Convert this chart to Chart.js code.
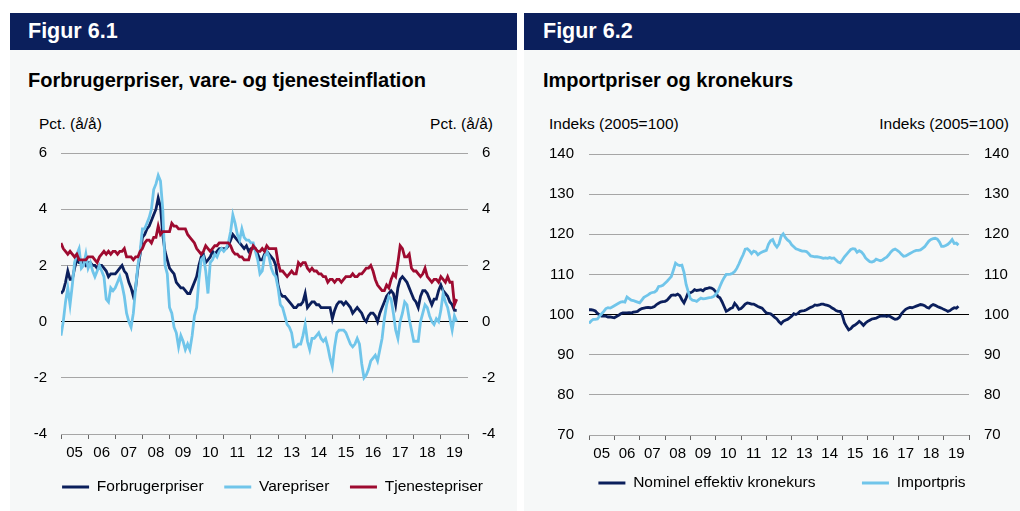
<!DOCTYPE html>
<html><head><meta charset="utf-8">
<script src="https://cdn.jsdelivr.net/npm/chart.js@4.4.1/dist/chart.umd.min.js"></script>
<style>
body{margin:0;width:1020px;height:511px;background:#fff;position:relative;overflow:hidden;font-family:'Liberation Sans',Arial,Helvetica,sans-serif;color:#000}
.panel{position:absolute;top:13px;height:498px;background:#f6f8f8}
.hdr{position:absolute;left:0;top:0;right:0;height:37px;background:#0b1f5c;color:#fff;font-weight:bold;font-size:21.5px;line-height:37px}
.ttl{position:absolute;top:57px;font-weight:bold;font-size:20px;line-height:20px;white-space:nowrap}
.unit{position:absolute;top:102px;font-size:15.5px;line-height:18px;white-space:nowrap}
canvas{position:absolute;left:0;top:117px}
</style></head>
<body>
<div class="panel" style="left:10px;width:507px">
 <div class="hdr" style="padding-left:18px">Figur 6.1</div>
 <div class="ttl" style="left:18px">Forbrugerpriser, vare- og tjenesteinflation</div>
 <div class="unit" style="left:29px">Pct. (å/å)</div>
 <div class="unit" style="right:24px">Pct. (å/å)</div>
 <canvas id="c1" width="507" height="375"></canvas>
</div>
<div class="panel" style="left:524px;width:496px">
 <div class="hdr" style="padding-left:19px">Figur 6.2</div>
 <div class="ttl" style="left:19px">Importpriser og kronekurs</div>
 <div class="unit" style="left:25px">Indeks (2005=100)</div>
 <div class="unit" style="right:11px">Indeks (2005=100)</div>
 <canvas id="c2" width="496" height="375"></canvas>
</div>
<script>
// Year labels (2005-2019), monthly data Jan 2005 - Aug 2019
const yearLabels = ['05','06','07','08','09','10','11','12','13','14','15','16','17','18','19'];

const forbrugerpriser = [
 1.0,1.1,1.4,1.8,1.5,1.5,1.9,2.2,2.1,2.1,2.1,2.0,
 2.1,2.1,2.0,2.0,1.9,2.0,2.0,1.9,1.8,1.6,1.7,1.7,
 1.7,1.8,1.9,2.0,1.8,1.7,1.4,1.2,0.9,1.2,1.9,2.4,
 3.0,3.1,3.3,3.4,3.6,3.8,4.0,4.4,4.1,3.1,2.5,2.2,
 1.9,1.8,1.7,1.4,1.3,1.2,1.2,1.1,1.0,1.0,1.2,1.4,
 1.6,2.0,2.3,2.4,2.1,2.2,2.3,2.5,2.4,2.5,2.6,2.6,
 2.6,2.6,2.7,2.9,3.1,3.0,2.9,2.8,2.7,2.6,2.7,2.5,
 2.6,2.6,2.6,2.4,2.2,2.2,2.4,2.5,2.4,2.3,2.2,2.0,
 1.3,1.0,0.9,0.9,0.8,0.7,0.6,0.5,0.5,0.6,0.6,0.7,
 1.0,0.5,0.6,0.7,0.7,0.6,0.6,0.5,0.5,0.5,0.5,0.5,
 0.1,0.4,0.6,0.7,0.7,0.6,0.7,0.6,0.5,0.3,0.4,0.5,
 0.4,0.3,0.1,0.0,0.2,0.3,0.3,0.2,0.0,0.3,0.5,0.7,
 0.9,1.0,1.1,1.0,0.6,1.2,1.5,1.6,1.5,1.4,1.2,1.0,
 0.8,0.7,0.5,0.9,1.1,1.1,1.0,0.8,0.6,0.8,0.8,1.1,
 1.3,1.1,1.0,0.9,0.7,0.6,0.4,0.4
];
const varepriser = [
 -0.5,0.0,0.7,1.2,0.6,1.3,2.1,2.4,2.6,1.9,2.0,2.4,
 1.9,2.1,1.8,1.6,1.8,2.0,1.8,1.6,0.8,0.7,1.2,1.1,
 1.2,1.4,1.6,1.3,0.9,0.3,0.0,-0.2,0.3,1.2,2.0,2.5,
 3.3,3.3,3.5,3.7,4.0,4.7,4.9,5.2,5.0,4.0,2.0,1.7,
 0.5,0.3,-0.2,-0.4,-0.9,-0.5,-0.7,-1.0,-0.8,-1.0,-0.5,0.2,
 0.5,1.5,2.2,2.3,1.8,1.0,2.1,2.2,2.4,2.3,2.5,2.6,
 2.5,2.6,2.8,3.2,3.8,3.5,3.1,2.9,3.3,3.0,2.9,2.9,
 2.8,2.8,2.5,2.2,1.7,1.8,2.3,2.5,2.3,1.9,1.7,1.6,
 1.2,0.6,0.5,0.2,-0.1,-0.2,-0.4,-0.9,-0.9,-0.8,-0.8,-0.5,
 -0.1,-0.7,-1.0,-0.6,-0.6,-0.5,-0.4,-0.6,-0.7,-0.6,-0.9,-1.3,
 -1.6,-0.9,-0.4,-0.3,-0.3,-0.3,-0.4,-0.6,-0.8,-0.9,-0.8,-0.6,
 -0.8,-1.5,-2.0,-1.9,-1.7,-1.4,-1.3,-1.2,-1.4,-1.0,-0.6,0.1,
 0.6,0.9,0.8,0.3,-0.3,-0.6,0.0,0.3,0.7,0.6,0.1,-0.3,
 -0.7,-0.7,-0.7,0.0,0.3,0.6,0.5,0.2,0.0,-0.1,0.1,0.0,
 0.4,1.0,0.7,0.5,0.1,-0.3,0.2,0.0
];
const tjenestepriser = [
 2.8,2.6,2.5,2.4,2.5,2.4,2.3,2.4,2.2,2.2,2.2,2.2,
 2.3,2.3,2.3,2.2,2.1,2.3,2.4,2.5,2.4,2.5,2.4,2.5,
 2.5,2.4,2.5,2.5,2.6,2.3,2.3,2.3,2.2,2.3,2.3,2.5,
 2.6,2.8,2.9,2.9,2.8,3.0,3.0,3.4,3.1,3.2,3.2,3.2,
 3.2,3.5,3.4,3.4,3.3,3.3,3.3,3.3,3.1,3.0,2.9,2.8,
 2.6,2.5,2.4,2.5,2.7,2.6,2.5,2.6,2.7,2.7,2.8,2.8,
 2.8,2.8,2.8,2.7,2.5,2.4,2.4,2.3,2.3,2.2,2.2,2.2,
 2.5,2.7,2.6,2.5,2.5,2.6,2.5,2.7,2.6,2.6,2.6,2.6,
 2.1,1.8,1.8,1.7,1.6,1.7,1.8,1.7,1.7,2.1,2.0,2.1,
 2.1,1.9,1.8,1.9,1.8,1.8,1.7,1.7,1.6,1.6,1.4,1.5,
 1.5,1.4,1.5,1.5,1.4,1.5,1.6,1.6,1.6,1.7,1.6,1.6,
 1.7,1.7,1.8,1.9,1.9,2.0,1.8,1.5,1.3,1.2,1.1,1.1,
 1.3,1.2,1.5,1.7,1.6,2.1,2.7,2.6,2.3,2.3,2.4,1.9,
 1.8,1.8,1.7,1.6,1.7,1.9,1.6,1.5,1.4,1.5,1.5,1.4,
 1.6,1.5,1.4,1.6,1.4,1.4,0.6,0.8
];
const kronekurs = [
 101.2,101.2,101.1,100.9,100.3,99.9,99.6,99.6,99.6,99.4,99.4,99.3,
 99.2,99.5,99.8,100.2,100.4,100.4,100.4,100.5,100.4,100.6,100.7,100.8,
 101.2,101.5,101.6,101.7,101.8,101.7,101.8,102.0,102.5,102.8,103.1,103.2,
 103.3,103.6,104.2,104.8,104.9,104.8,105.1,104.7,103.7,102.9,104.1,105.5,
 105.4,105.7,106.2,106.0,106.1,106.2,105.9,106.4,106.5,106.7,106.6,106.3,
 105.7,104.5,104.2,103.2,102.0,100.8,101.1,101.5,101.7,102.8,102.2,101.3,
 101.5,102.0,102.6,102.9,102.8,102.6,102.6,102.3,102.0,101.8,101.6,101.0,
 100.4,100.3,100.2,99.8,99.3,98.9,98.2,97.7,98.3,98.6,98.8,99.2,
 99.6,100.2,100.0,100.3,100.8,100.9,101.0,101.2,101.5,101.8,102.0,102.4,
 102.3,102.4,102.6,102.6,102.4,102.3,102.1,101.7,101.4,101.0,100.8,100.8,
 99.8,98.0,97.0,96.2,96.5,97.1,97.4,97.8,98.3,97.9,97.3,97.9,
 98.3,98.6,98.9,99.0,99.1,99.4,99.6,99.6,99.7,99.5,99.7,99.4,
 99.1,98.8,98.9,99.3,100.2,100.8,101.3,101.6,101.8,101.7,101.9,102.1,
 102.3,102.5,102.4,102.2,101.8,101.6,102.2,102.5,102.3,102.0,101.8,101.6,
 101.3,101.1,100.8,101.0,101.4,101.7,101.6,102.1
];
const importpris = [
 97.8,98.4,98.8,98.8,98.9,99.6,100.2,100.8,101.5,101.7,101.6,101.9,
 102.2,102.5,102.8,103.1,103.2,103.1,104.4,104.0,103.6,103.5,103.3,103.1,
 102.9,103.6,104.3,104.6,104.9,105.3,105.5,105.6,106.0,107.0,107.1,107.3,
 107.8,108.3,108.9,109.5,111.1,112.8,112.4,112.2,112.3,110.5,107.5,105.7,
 104.0,103.6,103.5,103.3,103.7,104.1,103.9,104.0,104.1,104.2,104.3,104.5,
 105.0,105.7,107.0,108.2,109.2,110.0,110.0,110.1,110.3,110.7,111.5,112.6,
 113.8,114.9,116.3,116.4,115.9,115.2,115.8,115.6,114.9,115.3,115.6,115.8,
 116.0,117.5,118.4,118.7,117.5,116.8,117.6,119.5,120.1,119.2,118.6,118.2,
 117.4,116.9,116.4,116.2,116.0,115.8,115.8,115.7,115.2,114.6,114.5,114.4,
 114.4,114.3,114.2,114.0,114.1,114.0,114.2,114.0,114.1,113.6,113.1,112.9,
 113.6,114.4,115.0,115.6,116.2,116.4,116.3,115.5,115.9,115.6,115.0,114.1,
 113.6,113.2,113.1,113.3,113.8,113.6,113.4,113.6,114.0,114.3,114.9,115.6,
 116.1,116.3,116.0,115.6,115.0,114.5,114.6,114.9,115.2,115.5,115.8,116.0,
 116.0,116.1,116.5,116.9,117.6,118.3,118.7,118.9,119.0,118.8,118.1,117.0,
 117.0,117.2,117.5,118.0,118.7,117.7,117.8,117.3
];
const pctRange = [-4, 6, 2];
const idxRange = [70, 140, 10];

const NAVY = '#0b1f5c', LIGHT = '#70c5ea', RED = '#9e0b30', GRID = '#a6a6a6';
Chart.defaults.font.family = "'Liberation Sans', Arial, Helvetica, sans-serif";
Chart.defaults.color = '#000';

const pts = arr => arr.map((v, i) => ({x: i, y: v}));
const gap = n => '\u00a0'.repeat(n);

function xAxis(h) {
  return {
    type: 'linear', min: 0, max: 180, position: 'bottom',
    afterBuildTicks: s => { const t = []; for (let v = 0; v <= 180; v += 6) t.push({value: v}); s.ticks = t; },
    afterFit: s => { s.height = h; },
    border: {display: false},
    grid: {drawOnChartArea: false, drawTicks: true, tickLength: 5, tickWidth: 1,
      tickColor: c => (c.tick && c.tick.value % 12 === 0) ? '#666' : 'rgba(0,0,0,0)'},
    ticks: {autoSkip: false, maxRotation: 0, minRotation: 0, padding: 5, font: {size: 15}, color: '#000',
      callback: v => (v % 12 === 6) ? yearLabels[(v - 6) / 12] : ''}
  };
}
function yAxis(pos, r, w, pad, zero, showGrid) {
  return {
    type: 'linear', position: pos, min: r[0], max: r[1],
    afterFit: s => { s.width = w; },
    border: {display: false},
    grid: showGrid ? {drawTicks: false, lineWidth: 1, color: c => c.tick.value === zero ? '#000' : GRID}
                   : {display: false, drawTicks: false},
    ticks: {stepSize: r[2], padding: pad, font: {size: 15}, color: '#000'}
  };
}
function legendOpts() {
  return {
    display: true, position: 'bottom', align: 'center',
    labels: {
      boxWidth: 27, boxHeight: 3, padding: 12, color: '#000', font: {size: 15.5},
      sort: (a, b) => a.datasetIndex - b.datasetIndex,
      generateLabels: ch => Chart.defaults.plugins.legend.labels.generateLabels(ch)
        .map(l => Object.assign(l, {fillStyle: l.strokeStyle, lineWidth: 0}))
    }
  };
}
function line(label, data, color, order) {
  return {label, data: pts(data), borderColor: color, backgroundColor: color, borderWidth: 2.8,
    pointRadius: 0, tension: 0, order, yAxisID: 'y'};
}

new Chart(document.getElementById('c1'), {
  type: 'line',
  data: {datasets: [
    line('Forbrugerpriser' + gap(2), forbrugerpriser, NAVY, 2),
    line('Varepriser' + gap(2), varepriser, LIGHT, 1),
    line('Tjenestepriser', tjenestepriser, RED, 0)
  ]},
  options: {
    responsive: false, animation: false, devicePixelRatio: 1, events: [],
    layout: {padding: {left: 18, right: 0, top: 21, bottom: 0.25}},
    scales: {x: xAxis(33.25), y: yAxis('left', pctRange, 33, 14, 0, true), y2: yAxis('right', pctRange, 49, 14, 0, false)},
    plugins: {legend: legendOpts(), tooltip: {enabled: false}, title: {display: false}}
  }
});

new Chart(document.getElementById('c2'), {
  type: 'line',
  data: {datasets: [
    line('Nominel effektiv kronekurs' + gap(8), kronekurs, NAVY, 1),
    line('Importpris', importpris, LIGHT, 0)
  ]},
  options: {
    responsive: false, animation: false, devicePixelRatio: 1, events: [],
    layout: {padding: {left: 20, right: 0, top: 21, bottom: 4.25}},
    scales: {x: xAxis(28.25), y: yAxis('left', idxRange, 45, 15, 100, true), y2: yAxis('right', idxRange, 51, 15, 100, false)},
    plugins: {legend: legendOpts(), tooltip: {enabled: false}, title: {display: false}}
  }
});
</script>
</body></html>
